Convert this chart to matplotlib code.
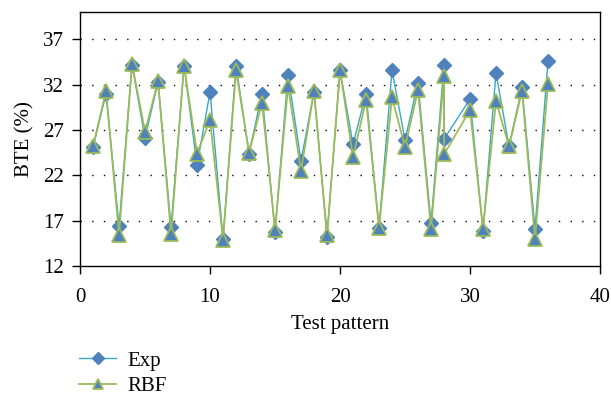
import matplotlib
matplotlib.use("Agg")
import matplotlib.pyplot as plt

# test pattern index (pattern 28 appears twice in the source chart)
patterns = [1, 2, 3, 4, 5, 6, 7, 8, 9, 10, 11, 12, 13, 14, 15, 16, 17, 18,
            19, 20, 21, 22, 23, 24, 25, 26, 27, 28, 28, 30, 31, 32, 33, 34, 35, 36]
bte_exp = [25.1, 31.0, 16.4, 34.2, 26.1, 32.3, 16.3, 34.1, 23.1, 31.2, 15.0, 34.1,
           24.4, 31.0, 15.8, 33.1, 23.6, 31.2, 15.2, 33.6, 25.4, 31.0, 16.2, 33.6,
           25.9, 32.2, 16.7, 34.2, 26.0, 30.4, 15.9, 33.3, 25.2, 31.7, 16.1, 34.6]
bte_rbf = [25.2, 31.3, 15.4, 34.3, 26.8, 32.4, 15.5, 34.1, 24.4, 28.1, 14.9, 33.6,
           24.5, 30.0, 16.0, 31.8, 22.5, 31.3, 15.4, 33.6, 24.0, 30.3, 16.2, 30.6,
           25.1, 31.4, 16.1, 33.0, 24.3, 29.2, 16.1, 30.2, 25.2, 31.3, 15.0, 32.1]

x_ticks = [0, 10, 20, 30, 40]
y_ticks = [12, 17, 22, 27, 32, 37]

BLUE = "#4f81bd"
TEAL = "#3aa6c8"
GREEN = "#9bbb59"

plt.rcParams["font.family"] = ["Liberation Serif", "DejaVu Serif"]

fig = plt.figure(figsize=(6.11, 4.0), dpi=100)
ax = fig.add_axes([0.131, 0.335, 0.851, 0.635])

ax.plot(patterns, bte_exp, color=TEAL, lw=1.0, marker="D", ms=7.5,
        mfc=BLUE, mec=BLUE, label="Exp", zorder=3)
ax.plot(patterns, bte_rbf, color=GREEN, lw=1.3, marker="^", ms=10.5,
        mfc=BLUE, mec=GREEN, mew=1.3, label="RBF", zorder=4)

ax.set_xlim(0, 40)
ax.set_ylim(12, 40)
ax.set_xticks(x_ticks)
ax.set_yticks(y_ticks)
ax.tick_params(direction="out", length=5.5, width=1, labelsize=15,
               top=False, right=False)
ax.tick_params(axis="x", pad=10)
ax.tick_params(axis="y", pad=6)
for sp in ax.spines.values():
    sp.set_linewidth(1)

for v in y_ticks[1:]:
    ax.axhline(v, color="black", lw=1.0, ls=(0, (1, 7.4)), zorder=1)

ax.set_xlabel("Test pattern", fontsize=15, labelpad=6)
ax.set_ylabel("BTE (%)", fontsize=15, labelpad=6)

fig.legend(loc="upper left", bbox_to_anchor=(0.13, 0.122), frameon=False,
           fontsize=15, handlelength=1.75, handletextpad=0.55,
           labelspacing=0.28, borderaxespad=0, borderpad=0, markerscale=0.75)

fig.savefig("out.png", dpi=100)
